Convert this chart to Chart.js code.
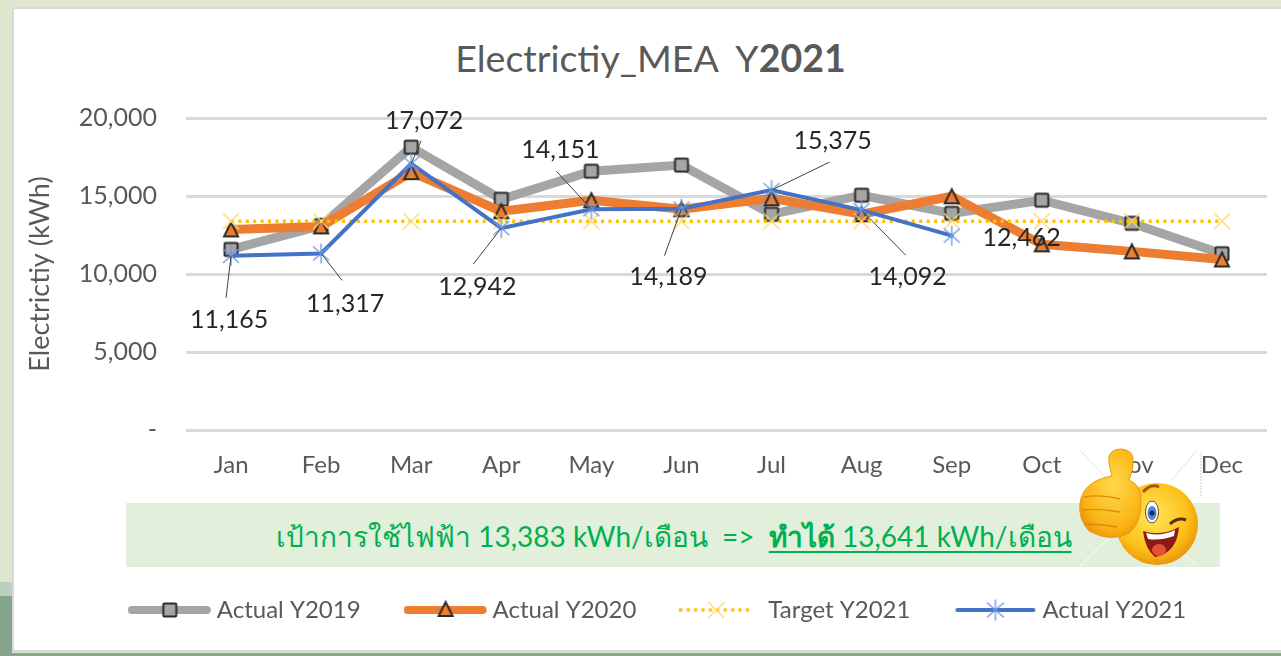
<!DOCTYPE html>
<html>
<head>
<meta charset="utf-8">
<script src="https://cdn.jsdelivr.net/npm/chart.js@4"></script>
<style>
html, body { margin: 0; width: 1281px; height: 656px; overflow: hidden; background: #dfe6cf; }
.abs { position: absolute; }
#lowerLeft { left: 0; top: 582px; width: 12px; height: 74px; background: linear-gradient(#bdcfc0 0, #bdcfc0 14px, #84a48c 14px); }
#bottomStrip { left: 0; top: 653px; width: 1281px; height: 3px; background: #84a48c; }
#card { left: 12px; top: 7px; width: 1269px; height: 641px; background: #fff; border: solid #d9d9d9; border-width: 2px 0 2px 2px; }
#title { left: 300px; width: 701px; top: 35px; text-align: center; font: 37.5px Lato, sans-serif; color: #595959; line-height: 46px; white-space: pre; }
#banner { left: 126px; top: 503px; width: 1094px; height: 64px; background: #e2efda; }
#bannerText { left: 276px; top: 516px; font: 28px Lato, "Noto Sans", sans-serif; color: #00b050; white-space: pre; line-height: 40px; }
#bannerText u { text-underline-offset: 4px; }
canvas { position: absolute; left: 0; top: 0; }
</style>
</head>
<body>
<div class="abs" id="lowerLeft"></div>
<div class="abs" id="bottomStrip"></div>
<div class="abs" id="card"></div>
<div class="abs" id="banner"></div>
<div class="abs" id="title">Electrictiy_MEA  Y<b>2021</b></div>
<div class="abs" id="bannerText">เป้าการใช้ไฟฟ้า 13,383 kWh/เดือน  =>  <u><b>ทำได้</b> 13,641 kWh/เดือน</u></div>
<canvas id="chart" width="1281" height="656"></canvas>
<svg class="abs" style="left:0;top:0" width="1281" height="656">
  <defs>
    <radialGradient id="faceFill" cx="45%" cy="40%" r="65%">
      <stop offset="0" stop-color="#ffe65c"/><stop offset="0.65" stop-color="#fdc11a"/><stop offset="1" stop-color="#e88a06"/>
    </radialGradient>
    <radialGradient id="handFill" cx="55%" cy="40%" r="70%">
      <stop offset="0" stop-color="#ffd94a"/><stop offset="0.7" stop-color="#fbb414"/><stop offset="1" stop-color="#e78c08"/>
    </radialGradient>
  </defs>
  <g stroke="#d6d6d6" stroke-width="1" opacity="0.7">
    <line x1="1080" y1="450" x2="1110" y2="482"/>
    <line x1="1197" y1="450" x2="1172" y2="480"/>
    <line x1="1201" y1="452" x2="1201" y2="497" stroke="#bbb" stroke-dasharray="2 1"/>
  </g>
  <g stroke="#fff" stroke-width="1">
    <line x1="1080" y1="566" x2="1112" y2="535"/>
    <line x1="1197" y1="566" x2="1180" y2="550"/>
  </g>
  <circle cx="1157" cy="524" r="41" fill="url(#faceFill)"/>
  <path d="M1143 492 q8 -9 16 -5" fill="none" stroke="#9a5a12" stroke-width="3"/>
  <ellipse cx="1152" cy="512" rx="6.5" ry="11" fill="#fff" stroke="#7a4a10" stroke-width="1"/>
  <ellipse cx="1152" cy="513" rx="4.5" ry="7" fill="#4f86d6"/>
  <circle cx="1152" cy="513" r="2.6" fill="#14305e"/>
  <path d="M1170 524 q8 -7 16 -4" fill="none" stroke="#5a3208" stroke-width="3"/>
  <path d="M1143 531 q18 6 36 -4 q-2 26 -24 30 q-10 -8 -12 -26z" fill="#8d1b12"/>
  <path d="M1146 533 q14 4 29 -3 l-1 6 q-14 5 -26 3z" fill="#fff"/>
  <ellipse cx="1159" cy="550" rx="7" ry="6" fill="#e5503c"/>
  <path d="M1112 476 q-4 -14 -3 -20 q3 -7 12 -7 q11 1 12 9 q1 12 -4 22 q13 5 12 22 q0 22 -12 31 q-18 10 -40 -2 q-11 -12 -9 -28 q3 -22 32 -27z" fill="url(#handFill)" stroke="#e99a12" stroke-width="1"/>
  <g fill="none" stroke="#d98c0a" stroke-width="1.3">
    <path d="M1084 497 q18 -3 36 2"/>
    <path d="M1082 510 q18 -2 38 2"/>
    <path d="M1085 524 q16 0 32 3"/>
  </g>
</svg>
<script>
const months = ['Jan', 'Feb', 'Mar', 'Apr', 'May', 'Jun', 'Jul', 'Aug', 'Sep', 'Oct', 'Nov', 'Dec'];
const actual2019 = [11575, 13100, 18130, 14790, 16590, 16980, 13830, 15050, 13890, 14730, 13250, 11300];
const actual2020 = [12860, 13050, 16530, 14020, 14730, 14150, 14850, 13830, 14980, 11900, 11450, 10930];
const target2021 = [13383, 13383, 13383, 13383, 13383, 13383, 13383, 13383, 13383, 13383, 13383, 13383];
const actual2021 = [11165, 11317, 17072, 12942, 14151, 14189, 15375, 14092, 12462, null, null, null];

// label placement for Actual Y2021, relative to the point: [label dx, label dy, leader dx, leader dy]
const labelPlacement = [
    [-2, 64, -5, 42],
    [24, 50, 21, 27],
    [13, -43, 10, -23],
    [-24, 59, -28, 36],
    [-31, -59, -35, -38],
    [-13, 68, -17, 47],
    [61, -49, 58, -28],
    [46, 67, 44, 45],
    [70, 2, null, null],
];

const FONT = 'Lato, sans-serif';

function makeCanvas(w, h, draw) {
    const c = document.createElement('canvas');
    c.width = w;
    c.height = h;
    const ctx = c.getContext('2d');
    ctx.translate(w / 2, h / 2);
    draw(ctx);
    return c;
}

function squareMark(ctx) {
    ctx.fillStyle = '#a5a5a5';
    ctx.strokeStyle = '#2b2b2b';
    ctx.lineWidth = 2;
    ctx.beginPath();
    ctx.roundRect(-6.5, -6.5, 13, 13, 1);
    ctx.fill();
    ctx.stroke();
}

function triangleMark(ctx) {
    ctx.fillStyle = '#ed7d31';
    ctx.strokeStyle = '#2b2b2b';
    ctx.lineWidth = 2;
    ctx.beginPath();
    ctx.moveTo(0, -7);
    ctx.lineTo(7, 7);
    ctx.lineTo(-7, 7);
    ctx.closePath();
    ctx.fill();
    ctx.stroke();
}

function crossMark(ctx) {
    ctx.strokeStyle = '#ffd966';
    ctx.lineWidth = 1.4;
    ctx.beginPath();
    ctx.moveTo(-8, -8);
    ctx.lineTo(8, 8);
    ctx.moveTo(8, -8);
    ctx.lineTo(-8, 8);
    ctx.stroke();
}

function starMark(ctx) {
    ctx.strokeStyle = '#6f9ae0';
    ctx.lineWidth = 1.4;
    ctx.beginPath();
    ctx.moveTo(-8, -7);
    ctx.lineTo(8, 7);
    ctx.moveTo(8, -7);
    ctx.lineTo(-8, 7);
    ctx.moveTo(0, -10);
    ctx.lineTo(0, 10);
    ctx.stroke();
}

function legendLine(color, width, x0, x1, dash) {
    return (ctx) => {
        ctx.strokeStyle = color;
        ctx.lineWidth = width;
        ctx.lineCap = dash ? 'butt' : 'round';
        if (dash) ctx.setLineDash(dash);
        ctx.beginPath();
        ctx.moveTo(x0, 0);
        ctx.lineTo(x1, 0);
        ctx.stroke();
        ctx.setLineDash([]);
    };
}

const series = [
    { label: 'Actual Y2019', data: actual2019, color: '#a5a5a5', width: 9, mark: squareMark, order: 4 },
    { label: 'Actual Y2020', data: actual2020, color: '#ed7d31', width: 9, mark: triangleMark, order: 3 },
    { label: 'Target Y2021', data: target2021, color: '#ffc000', width: 3.5, mark: crossMark, order: 2, dash: [3, 4.4] },
    { label: 'Actual Y2021', data: actual2021, color: '#4472c4', width: 4, mark: starMark, order: 1 },
];

const legendIcons = [
    makeCanvas(84, 24, (ctx) => { legendLine('#a5a5a5', 8, -38, 37)(ctx); squareMark(ctx); }),
    makeCanvas(84, 24, (ctx) => { legendLine('#ed7d31', 8, -38, 37)(ctx); ctx.translate(0, -1); triangleMark(ctx); }),
    makeCanvas(84, 24, (ctx) => { legendLine('#ffc000', 3.5, -42, 32, [3, 4.4])(ctx); ctx.translate(-5, 0); crossMark(ctx); }),
    makeCanvas(84, 24, (ctx) => { legendLine('#4472c4', 4, -38, 38)(ctx); starMark(ctx); }),
];

const actualLabels = {
    id: 'actualLabels',
    afterLayout(chart) {
        // the legend sits a little right of the canvas centre
        chart.legend.left += 15;
        chart.legend.right += 15;
    },
    afterDatasetsDraw(chart) {
        const { ctx } = chart;
        const x = chart.scales.x;
        const y = chart.scales.y;
        ctx.save();
        ctx.font = '25px ' + FONT;
        ctx.textAlign = 'center';
        ctx.textBaseline = 'middle';
        labelPlacement.forEach((p, i) => {
            const px = x.getPixelForValue(i);
            const py = y.getPixelForValue(actual2021[i]);
            if (p[2] !== null) {
                ctx.strokeStyle = '#404040';
                ctx.lineWidth = 1;
                ctx.beginPath();
                ctx.moveTo(px, py);
                ctx.lineTo(px + p[2], py + p[3]);
                ctx.stroke();
            }
            ctx.fillStyle = '#262626';
            ctx.fillText(actual2021[i].toLocaleString('en-US'), px + p[0], py + p[1]);
        });
        ctx.restore();
    }
};

new Chart(document.getElementById('chart'), {
    type: 'line',
    data: {
        labels: months,
        datasets: series.map((s) => ({
            label: s.label,
            data: s.data,
            order: s.order,
            borderColor: s.color,
            backgroundColor: s.color,
            borderWidth: s.width,
            borderDash: s.dash || [],
            borderCapStyle: s.dash ? 'butt' : 'round',
            borderJoinStyle: 'miter',
            tension: 0,
            fill: false,
            spanGaps: false,
            pointStyle: makeCanvas(26, 26, s.mark),
            pointRadius: 8,
        })),
    },
    options: {
        responsive: false,
        animation: false,
        devicePixelRatio: 1,
        layout: { autoPadding: false, padding: { left: 24, right: 14, top: 118, bottom: 24 } },
        plugins: {
            title: { display: false },
            tooltip: { enabled: false },
            legend: {
                position: 'bottom',
                labels: {
                    usePointStyle: true,
                    pointStyleWidth: 70,
                    padding: 50,
                    color: '#595959',
                    font: { family: FONT, size: 24 },
                    generateLabels: () => series.map((s, i) => ({
                        text: s.label,
                        pointStyle: legendIcons[i],
                        fontColor: '#595959',
                        lineWidth: 0,
                        hidden: false,
                        datasetIndex: i,
                    })),
                },
            },
        },
        scales: {
            x: {
                offset: true,
                afterFit: (scale) => { scale.height = 118; },
                grid: { display: false },
                border: { display: false },
                ticks: { color: '#595959', font: { family: FONT, size: 24 }, padding: 13, maxRotation: 0 },
            },
            y: {
                min: 0,
                max: 20000,
                afterFit: (scale) => { scale.width = 162; },
                grid: { color: '#d9d9d9', lineWidth: 3, drawTicks: false },
                border: { display: false },
                title: { display: true, text: 'Electrictiy (kWh)', color: '#595959', font: { family: FONT, size: 27 }, padding: 0 },
                ticks: {
                    stepSize: 5000,
                    color: '#595959',
                    padding: 29,
                    font: { family: FONT, size: 25 },
                    callback: (v) => (v === 0 ? '-' : v.toLocaleString('en-US')),
                },
            },
        },
    },
    plugins: [actualLabels],
});
</script>
</body>
</html>
